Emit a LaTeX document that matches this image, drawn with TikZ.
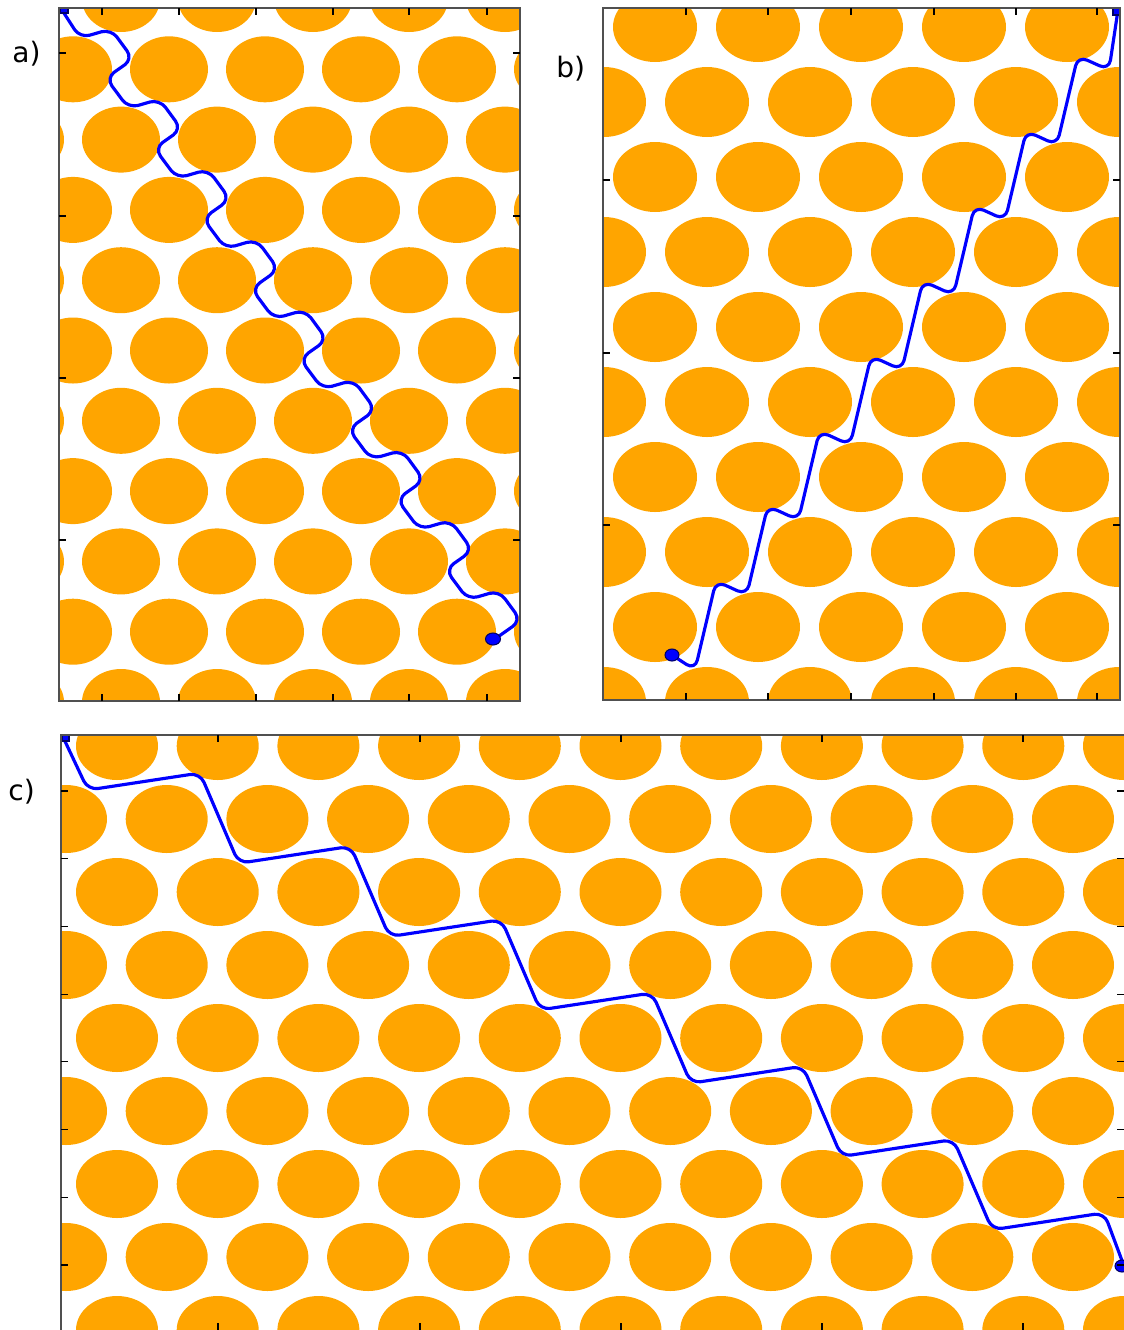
\documentclass[tikz,border=0pt]{standalone}
\usepackage{fontspec}
\setmainfont{DejaVu Sans}
\definecolor{blobfill}{HTML}{FFA500}
\definecolor{trackblue}{HTML}{0000FF}
\definecolor{framegray}{HTML}{505050}

\begin{document}
\begin{tikzpicture}[x=0.02cm,y=-0.02cm,
    blob/.style={fill=blobfill},
    track/.style={draw=trackblue,line width=1.8pt,rounded corners=2mm,line join=round},
    frame/.style={draw=framegray,line width=1.4pt},
    tick/.style={draw=black,line width=0.7pt},
    endmark/.style={fill=trackblue,draw=black!60!blue,line width=0.6pt},
    panellabel/.style={anchor=base west,inner sep=0pt,font=\fontsize{16}{16}\selectfont}]

  \useasboundingbox (0,0) rectangle (1124,1330);

  % a) lattice and path
  \begin{scope}
    \clip (59,8) rectangle (520,701);
    \foreach \j in {0,...,10}{
      \pgfmathsetmacro{\xs}{mod(\j,2)==0 ? 25 : 73}
      \foreach \i in {0,...,5}
        \fill[blob] (\xs+96*\i,-1+70.3*\j) ellipse [x radius=39,y radius=33];
    }
    \draw[track] (62,10) \foreach \k in {0,...,8}{
      -- (80+48.5*\k,38+70.2*\k) -- (111+48.5*\k,29+70.2*\k)
      -- (133+48.5*\k,59+70.2*\k) -- (106+48.5*\k,78+70.2*\k)};
    \filldraw[endmark] (60,7) rectangle (68,13);
    \filldraw[endmark] (493,639) ellipse [x radius=7.5,y radius=6];
  \end{scope}
  \draw[frame] (59,8) rectangle (520,701);
  \foreach \x in {102,179,256,333,409,487}{
    \draw[tick] (\x,8) -- (\x,15);
    \draw[tick] (\x,701) -- (\x,694);
  }
  \foreach \y in {53,216,378,540}{
    \draw[tick] (59,\y) -- (66,\y);
    \draw[tick] (520,\y) -- (513,\y);
  }

  % b) lattice and path
  \begin{scope}
    \clip (603,8) rectangle (1120,700);
    \foreach \j in {0,...,9}{
      \pgfmathsetmacro{\xs}{mod(\j,2)==0 ? 552 : 604}
      \foreach \i in {0,...,5}
        \fill[blob] (\xs+103*\i,27+75*\j) ellipse [x radius=42,y radius=35];
    }
    \draw[track] (672,655) \foreach \k in {0,...,7}{
      -- (695+51.7*\k,670-75*\k) -- (716+51.7*\k,581-75*\k)}
      -- (1109,70) -- (1118,10);
    \filldraw[endmark] (672,655) ellipse [x radius=7,y radius=6];
    \filldraw[endmark] (1113,8) rectangle (1120,15);
  \end{scope}
  \draw[frame] (603,8) rectangle (1120,700);
  \foreach \x in {686,768,851,934,1016,1097}{
    \draw[tick] (\x,8) -- (\x,15);
    \draw[tick] (\x,700) -- (\x,693);
  }
  \foreach \y in {180,353,525}{
    \draw[tick] (603,\y) -- (610,\y);
    \draw[tick] (1120,\y) -- (1113,\y);
  }

  % c) lattice and path
  \begin{scope}
    \clip (61,735) rectangle (1126,1332);
    \foreach \j in {0,...,8}{
      \pgfmathsetmacro{\xs}{mod(\j,2)==0 ? 16.3 : 66}
      \foreach \i in {0,...,11}
        \fill[blob] (\xs+100.7*\i,746+73*\j) ellipse [x radius=41,y radius=34];
    }
    \draw[track] (63,737) \foreach \k in {0,...,6}{
      -- (88+150.7*\k,790+73.3*\k) -- (200+150.7*\k,773+73.3*\k)}
      -- (1124,1266);
    \filldraw[endmark] (62,735) rectangle (69,741);
    \filldraw[endmark] (1122,1266) ellipse [x radius=7,y radius=6];
  \end{scope}
  \draw[frame] (61,735) rectangle (1126,1332);
  \foreach \x in {218,420,621,822,1023}{
    \draw[tick] (\x,735) -- (\x,742);
    \draw[tick] (\x,1332) -- (\x,1323);
  }
  \foreach \k in {0,...,7}{
    \draw[tick] (61,791+67.7*\k) -- (68,791+67.7*\k);
    \draw[tick] (1126,791+67.7*\k) -- (1117,791+67.7*\k);
  }

  \node[panellabel] (labela) at (12,62) {a)};
  \node[panellabel] (labelb) at (556,77) {b)};
  \node[panellabel] (labelc) at (8,800) {c)};
\end{tikzpicture}
\end{document}
